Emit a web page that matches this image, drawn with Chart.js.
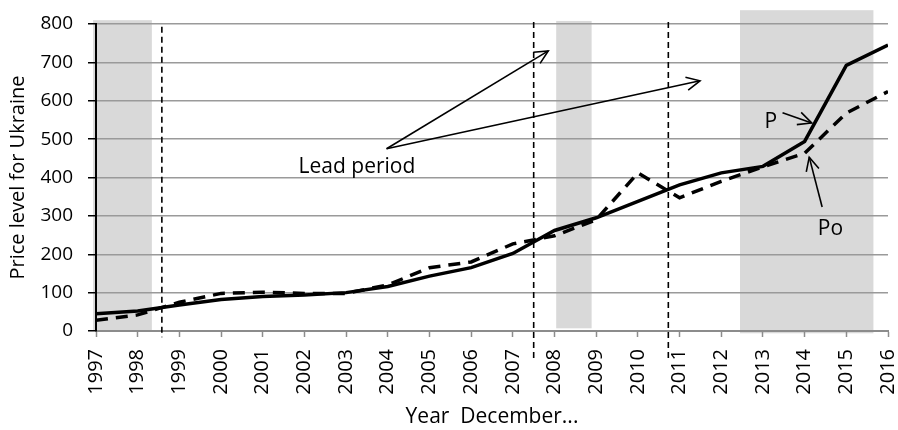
<!DOCTYPE html>
<html lang="en">
<head>
  <meta charset="UTF-8">
  <title>Price level for Ukraine</title>
  <script src="https://cdn.jsdelivr.net/npm/chart.js@4"></script>
  <style>
    html, body { margin: 0; padding: 0; background: #fff; }
    #wrap { position: relative; width: 898px; height: 430px; }
  </style>
</head>
<body>
  <div id="wrap"><canvas id="chart"></canvas></div>

  <script>
    // data
    const years = [1997, 1998, 1999, 2000, 2001, 2002, 2003, 2004, 2005, 2006,
                   2007, 2008, 2009, 2010, 2011, 2012, 2013, 2014, 2015, 2016];
    const priceP  = [45, 52, 68, 82, 90, 94, 100, 116, 143, 165,
                     202, 262, 295, 338, 381, 412, 429, 494, 692, 745];
    const pricePo = [28, 42, 75, 98, 101, 98, 98, 120, 165, 180,
                     227, 248, 290, 412, 347, 390, 428, 463, 568, 624];
    const yTicks = [0, 100, 200, 300, 400, 500, 600, 700, 800];

    // annotation geometry, in axis units (year, price level)
    const shaded = [
      [1996.93, 1998.34, 0, 810],
      [2008.04, 2008.89, 7, 808],
      [2012.45, 2015.65, -6, 836]
    ];
    const vLines = [
      [1998.58, -16, 793],
      [2007.50, -78, 805],
      [2010.73, -78, 805]
    ];
    const arrows = [
      [2003.97, 475, 2007.85, 730],
      [2003.97, 475, 2011.49, 652],
      [2013.47, 569, 2014.17, 542],
      [2014.42, 323, 2014.11, 453]
    ];
    const labels = [
      ['Lead period', 2003.26, 412],
      ['P', 2013.19, 530],
      ['Po', 2014.62, 251]
    ];

    const FONT = "'Open Sans', 'DejaVu Sans', sans-serif";

    function arrowHead(ctx, x0, y0, x1, y1) {
      const a = Math.atan2(y1 - y0, x1 - x0);
      const len = 15, spread = 0.45;
      ctx.beginPath();
      ctx.moveTo(x1 - len * Math.cos(a - spread), y1 - len * Math.sin(a - spread));
      ctx.lineTo(x1, y1);
      ctx.lineTo(x1 - len * Math.cos(a + spread), y1 - len * Math.sin(a + spread));
      ctx.stroke();
    }

    const annot = {
      id: 'annot',
      beforeDraw(chart) {
        const { ctx, scales: { x, y } } = chart;
        ctx.save();
        ctx.fillStyle = '#d9d9d9';
        shaded.forEach(([x0, x1, y0, y1]) => {
          const l = x.getPixelForValue(x0), r = x.getPixelForValue(x1);
          const t = y.getPixelForValue(y1), b = y.getPixelForValue(y0);
          ctx.fillRect(l, t, r - l, b - t);
        });
        ctx.restore();
      },
      afterDraw(chart) {
        const { ctx, scales: { x, y } } = chart;
        ctx.save();
        ctx.strokeStyle = '#000';

        // dashed period markers
        ctx.lineWidth = 1.6;
        ctx.setLineDash([6, 4]);
        vLines.forEach(([xv, y0, y1]) => {
          const px = x.getPixelForValue(xv);
          ctx.beginPath();
          ctx.moveTo(px, y.getPixelForValue(y1));
          ctx.lineTo(px, y.getPixelForValue(y0));
          ctx.stroke();
        });

        // arrows
        ctx.setLineDash([]);
        ctx.lineWidth = 1.6;
        arrows.forEach(([xa, ya, xb, yb]) => {
          const x0 = x.getPixelForValue(xa), y0 = y.getPixelForValue(ya);
          const x1 = x.getPixelForValue(xb), y1 = y.getPixelForValue(yb);
          ctx.beginPath();
          ctx.moveTo(x0, y0);
          ctx.lineTo(x1, y1);
          ctx.stroke();
          arrowHead(ctx, x0, y0, x1, y1);
        });

        // text labels
        ctx.fillStyle = '#000';
        ctx.font = '21px ' + FONT;
        ctx.textAlign = 'center';
        ctx.textBaseline = 'alphabetic';
        labels.forEach(([txt, xv, yv]) => {
          ctx.fillText(txt, x.getPixelForValue(xv), y.getPixelForValue(yv));
        });
        ctx.restore();
      }
    };

    new Chart(document.getElementById('chart'), {
      type: 'line',
      data: {
        datasets: [
          {
            label: 'P',
            data: years.map((yr, i) => ({ x: yr, y: priceP[i] })),
            borderColor: '#000',
            borderWidth: 3.5,
            pointRadius: 0,
            tension: 0
          },
          {
            label: 'Po',
            data: years.map((yr, i) => ({ x: yr, y: pricePo[i] })),
            borderColor: '#000',
            borderWidth: 3.5,
            borderDash: [12, 8],
            pointRadius: 0,
            tension: 0
          }
        ]
      },
      options: {
        responsive: true,
        maintainAspectRatio: false,
        animation: false,
        layout: { padding: { top: 24, right: 10, left: 0, bottom: 0 } },
        plugins: { legend: { display: false }, tooltip: { enabled: false } },
        scales: {
          x: {
            type: 'linear',
            min: years[0],
            max: years[years.length - 1],
            afterFit: s => { s.height = 99; s.paddingLeft = 0; s.paddingRight = 0; },
            border: { color: '#8c8c8c', width: 2 },
            grid: { drawOnChartArea: false, drawTicks: true, tickLength: 6, tickColor: '#8c8c8c', tickWidth: 1.5 },
            ticks: {
              stepSize: 1,
              autoSkip: false,
              minRotation: 90,
              maxRotation: 90,
              padding: 12,
              color: '#000',
              font: { family: FONT, size: 20 },
              callback: v => String(v)
            },
            title: {
              display: true,
              text: 'Year  December...',
              color: '#000',
              font: { family: FONT, size: 21 },
              padding: { top: 0, bottom: 0 }
            }
          },
          y: {
            min: yTicks[0],
            max: yTicks[yTicks.length - 1],
            afterFit: s => { s.width = 96; s.paddingTop = 0; s.paddingBottom = 0; },
            border: { color: '#000', width: 2 },
            grid: { color: '#9a9a9a', lineWidth: 1.5, tickLength: 8, tickColor: '#000', tickWidth: 1.5 },
            ticks: {
              stepSize: 100,
              padding: 15,
              color: '#000',
              font: { family: FONT, size: 19 }
            },
            title: {
              display: true,
              text: 'Price level for Ukraine',
              color: '#000',
              font: { family: FONT, size: 20 },
              padding: { top: 6, bottom: 0 }
            }
          }
        }
      },
      plugins: [annot]
    });
  </script>
</body>
</html>
